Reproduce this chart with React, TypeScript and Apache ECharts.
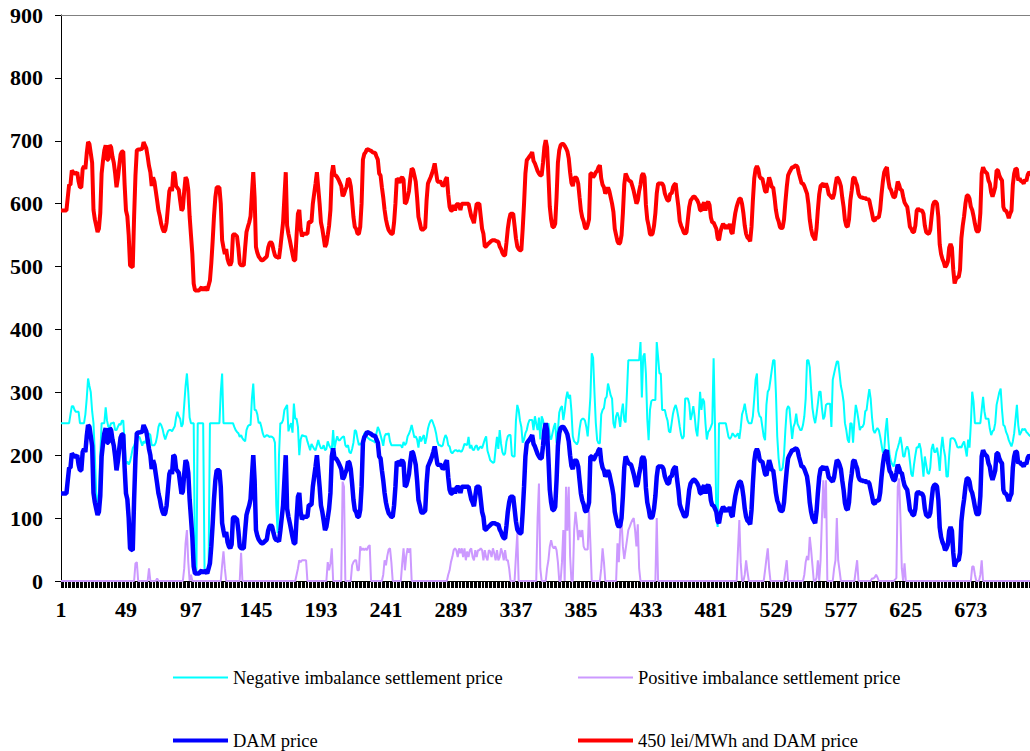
import React, { useEffect, useRef } from 'react';
import * as echarts from 'echarts';

// hourly intervals 1..720 (category axis)
const hours: string[] = Array.from({ length: 720 }, (_, i) => String(i + 1));

const NAME_NEG = 'Negative imbalance settlement price';
const NAME_POS = 'Positive imbalance settlement price';
const NAME_DAM = 'DAM price';
const NAME_RED = '450 lei/MWh and DAM price';

// one line = one day (24 hourly values)
const negativeImbalancePrice: number[] = [
  251,251,251,251,251,251,251,265,278,278,272,269,269,269,251,251,251,251,265,290,322,310,300,270,
  251,200,140,120,140,200,251,251,251,276,255,245,245,251,251,252,240,240,245,250,248,255,255,219,
  187,190,185,190,200,211,215,222,229,229,229,222,215,222,219,226,230,235,232,216,216,216,220,230,
  245,251,248,242,232,225,232,238,240,240,238,242,246,260,269,262,258,245,250,280,310,330,300,260,
  251,251,251,15,15,251,251,251,251,251,20,15,15,20,251,251,251,251,251,251,251,251,300,330,
  251,251,251,251,251,251,251,251,245,240,237,235,229,232,227,224,222,240,246,248,248,290,314,272,
  272,265,251,253,245,235,229,230,232,231,229,230,229,227,220,120,76,200,251,251,256,272,276,280,
  238,246,251,236,282,258,258,245,200,225,232,231,230,230,222,215,208,218,214,210,208,216,224,216,
  211,211,216,208,210,222,216,212,209,240,210,222,230,224,224,227,229,230,216,213,216,205,203,210,
  220,240,238,226,216,219,216,222,235,235,229,227,225,224,223,222,220,235,245,240,232,224,215,230,
  234,233,235,222,216,216,216,216,216,216,216,216,212,221,216,219,230,234,240,248,238,228,230,225,
  212,230,222,228,232,218,228,242,250,255,256,250,244,235,222,216,216,214,216,226,232,228,216,214,
  205,203,206,208,208,206,208,206,206,211,218,217,216,229,211,216,209,208,214,216,208,212,214,211,
  218,225,230,207,200,192,190,188,189,210,229,210,240,218,205,200,203,222,230,232,232,200,198,198,
  255,280,272,255,245,220,225,235,240,250,256,256,256,240,262,250,240,260,225,262,256,240,215,240,
  251,230,225,235,245,251,219,240,268,275,278,256,270,290,301,290,296,270,230,222,220,217,222,242,
  255,258,258,255,245,230,260,293,362,355,300,251,224,219,219,265,272,275,290,293,314,305,295,290,
  251,243,262,268,260,245,268,282,256,252,300,351,351,351,351,351,351,351,351,351,380,292,357,362,
  330,258,224,272,286,288,288,288,380,356,330,330,272,272,272,262,255,238,236,251,266,275,280,272,
  260,245,232,226,230,290,290,290,282,256,265,278,262,240,230,260,301,272,290,285,250,225,237,240,
  245,251,354,251,100,86,251,251,251,251,251,251,240,229,226,229,235,232,229,232,235,226,243,265,
  272,282,268,256,251,251,251,262,290,320,330,270,262,260,245,230,224,280,301,305,320,336,351,351,
  300,230,195,176,176,180,200,240,272,278,275,250,226,245,251,266,250,245,240,240,248,262,290,351,
  351,340,305,275,260,251,265,282,301,301,275,257,262,280,282,282,282,245,320,330,340,349,349,330,
  310,300,285,251,240,225,220,251,250,220,255,280,270,256,240,245,245,250,270,272,290,305,290,260,
  240,235,240,243,240,230,217,204,207,240,259,225,200,190,185,182,192,205,212,220,229,216,198,198,
  210,214,208,190,170,166,185,200,213,212,219,210,190,166,198,185,172,170,180,210,218,205,205,212,
  198,175,210,229,210,198,166,166,200,226,227,227,225,220,213,212,214,212,218,222,210,198,225,212,
  250,301,285,251,251,251,251,251,272,293,270,258,258,258,242,232,238,240,251,280,290,300,306,272,
  248,246,237,232,224,219,214,222,235,258,280,248,232,236,242,240,242,237,235,232,230,232,235,233,
];

const positiveImbalancePrice: number[] = [
  0,0,0,0,0,0,0,0,0,0,0,0,0,0,0,0,0,0,0,0,0,0,0,0,
  0,0,0,0,0,0,0,0,0,0,0,0,0,0,0,0,0,0,0,0,0,0,0,0,
  0,0,0,0,0,0,0,28,30,0,0,0,0,0,0,0,0,20,0,0,0,0,0,4,
  0,0,0,0,0,0,0,0,0,0,0,0,0,0,0,0,0,0,0,20,60,81,30,0,
  10,0,0,0,0,0,0,0,0,0,0,0,0,0,0,0,0,0,0,0,0,0,0,25,
  47,20,0,0,0,0,0,0,0,0,0,0,0,45,0,0,0,0,0,0,0,0,0,0,
  0,0,0,0,0,0,0,0,0,0,0,0,0,0,0,0,0,0,0,0,0,0,0,0,
  0,0,0,0,0,0,10,20,33,30,33,33,33,33,0,0,0,0,0,0,0,0,0,0,
  0,0,0,0,0,30,17,28,52,0,0,0,0,0,0,0,158,150,0,0,0,0,0,25,
  30,33,33,17,17,55,49,52,49,52,49,55,57,0,0,0,0,0,0,0,0,0,10,33,
  25,40,50,52,30,0,0,0,0,0,0,0,28,52,17,40,52,45,52,0,0,0,0,0,
  0,0,0,0,0,0,0,0,0,0,0,0,0,0,0,0,0,0,0,0,0,0,10,17,
  30,38,49,52,49,38,52,44,52,38,52,33,47,38,49,52,38,33,49,38,49,49,52,49,
  33,49,38,33,49,47,38,52,44,33,49,33,38,52,45,33,49,33,33,20,0,0,0,0,
  40,76,0,0,0,0,0,0,0,0,0,0,0,0,0,0,100,155,20,0,0,0,0,20,
  33,55,65,55,52,55,49,30,0,0,30,81,0,150,80,150,40,0,0,81,110,90,65,81,
  70,81,55,50,50,50,113,60,0,0,0,0,0,0,0,20,52,30,0,0,0,0,0,0,
  0,0,0,60,30,80,97,55,35,50,65,81,86,92,97,100,81,55,90,20,0,0,0,0,
  0,0,0,0,0,0,0,0,100,0,0,0,0,0,0,0,0,0,0,0,0,0,0,0,
  0,0,0,0,0,0,0,0,0,0,0,0,0,0,0,0,0,0,0,0,0,0,0,0,
  0,0,0,0,0,0,0,0,0,0,0,0,0,0,0,0,0,0,0,0,50,97,30,0,
  0,10,33,15,0,0,0,0,0,0,0,0,0,0,0,0,17,35,52,20,0,0,0,0,
  0,0,0,0,0,0,0,17,33,0,0,0,0,0,0,0,0,0,0,0,0,10,30,40,
  33,70,50,25,0,0,5,33,0,33,100,160,100,160,0,0,0,0,0,20,33,100,33,17,
  0,0,0,0,0,0,0,0,0,0,0,17,33,0,0,0,0,0,0,0,0,0,0,4,
  4,6,10,6,0,0,0,0,0,0,0,0,0,0,0,0,2,5,150,163,100,20,0,28,
  0,0,0,0,0,0,0,0,0,0,0,0,0,0,0,0,0,0,0,0,0,0,0,0,
  0,0,0,0,0,0,0,0,0,0,0,0,0,0,0,0,0,0,0,0,0,0,0,0,
  0,23,23,10,0,0,0,10,33,0,0,0,0,0,0,0,0,0,0,0,0,0,0,0,
  0,0,0,0,0,0,0,0,0,0,0,0,0,0,0,0,0,0,0,0,0,0,0,0,
];

const damPrice: number[] = [
  139,139,139,139,139,160,180,180,203,200,198,198,200,185,176,176,205,210,205,230,248,245,230,215,
  140,125,115,105,110,135,198,218,235,243,220,220,243,240,225,215,198,176,190,210,228,233,233,180,
  139,130,100,52,50,49,130,195,235,236,236,237,237,248,243,238,225,210,200,178,192,185,170,155,
  139,130,118,110,105,108,120,145,170,176,170,200,198,178,175,172,155,139,142,170,192,188,172,130,
  100,70,23,12,12,12,12,15,17,12,17,15,12,20,28,55,90,130,160,176,176,176,150,92,
  80,70,78,62,55,52,58,100,102,100,98,80,55,52,52,52,80,105,113,120,130,166,200,160,
  81,72,66,63,60,60,62,64,66,80,87,89,86,76,68,65,65,63,80,100,120,160,200,115,
  102,92,81,70,60,60,100,134,140,110,98,102,102,102,102,121,121,121,150,166,182,200,175,150,
  120,110,96,81,86,100,115,140,198,211,195,195,192,188,183,178,162,165,172,177,190,188,178,155,
  129,113,110,102,102,113,150,220,229,232,237,236,235,234,232,231,231,225,220,198,195,176,160,140,
  125,115,108,105,102,102,120,150,190,188,183,190,192,188,150,152,160,170,190,206,204,195,185,160,
  129,120,110,108,110,112,155,182,187,192,198,205,214,200,186,184,186,182,178,180,188,192,165,145,
  139,139,148,139,148,150,148,140,150,150,150,150,150,150,140,130,125,119,135,150,150,150,130,110,
  102,82,82,85,87,89,91,92,92,91,90,90,82,78,72,68,68,88,110,125,134,134,134,115,
  95,82,78,76,76,110,150,198,219,222,225,228,232,218,214,208,202,198,195,195,215,240,251,240,
  195,145,125,113,113,118,160,215,235,243,245,245,242,238,233,222,200,183,178,190,192,190,182,160,
  139,128,122,112,110,116,125,198,198,192,195,200,202,208,211,190,180,176,166,170,176,170,160,150,
  137,110,100,90,86,88,100,135,180,198,193,188,186,185,178,170,160,150,155,170,180,195,198,192,
  148,125,115,102,100,103,115,135,166,182,182,182,182,178,166,160,155,155,166,166,176,180,182,162,
  145,122,115,110,104,102,105,125,145,155,158,161,161,158,155,150,140,139,148,152,139,150,153,148,
  128,120,120,115,110,95,92,105,113,118,115,110,116,110,118,105,102,120,135,145,152,158,158,150,
  135,115,102,96,94,90,113,155,190,205,210,205,193,190,190,180,170,168,180,192,185,176,176,160,
  140,128,122,113,111,112,125,152,176,195,200,204,208,208,210,211,208,198,190,182,182,178,172,166,
  150,125,110,100,96,92,110,140,165,178,180,182,176,182,176,165,163,160,158,165,180,192,190,185,
  178,160,145,124,115,113,125,155,171,190,192,185,179,166,161,160,160,158,160,156,158,155,145,135,
  124,123,127,128,128,140,165,185,200,205,208,187,175,172,165,160,161,172,185,180,172,172,161,152,
  148,145,130,113,110,105,105,115,139,142,140,139,139,134,115,105,103,102,108,129,148,153,153,150,
  129,85,70,62,57,49,52,58,80,86,80,45,23,30,33,33,45,95,115,130,150,163,163,158,
  145,140,130,118,108,105,108,135,198,208,203,200,198,187,182,168,161,168,176,203,203,195,190,187,
  145,139,139,134,127,134,139,180,198,206,205,187,190,186,185,182,188,186,196,200,198,195,190,185,
];

// the red series is, by its own definition, 450 lei/MWh added to the DAM price
const PRICE_OFFSET = 450;
const damPlusOffset: number[] = damPrice.map((v) => v + PRICE_OFFSET);

const Y_MIN = 0;
const Y_MAX = 900;
const Y_STEP = 100;

const FONT = "'Liberation Serif', 'Times New Roman', serif";

const legendText = { fontSize: 18.5, color: '#000', fontFamily: FONT };

const makeLegend = (name: string, left: number, top: number, h: number) => ({
  data: [name],
  left,
  top,
  orient: 'horizontal',
  icon: 'rect',
  itemWidth: 55,
  itemHeight: h,
  itemGap: 0,
  padding: 0,
  selectedMode: false,
  textStyle: legendText,
});

const option = {
  animation: false,
  backgroundColor: '#ffffff',
  textStyle: { fontFamily: FONT },
  grid: { left: 61, top: 15, width: 973.5, height: 566, containLabel: false },
  xAxis: [
    {
      type: 'category',
      data: hours,
      boundaryGap: false,
      axisLine: { show: true, lineStyle: { color: '#000', width: 1 } },
      axisTick: { show: true, interval: 0, length: 7, lineStyle: { color: '#000', width: 1 } },
      axisLabel: {
        interval: 47,
        margin: 17,
        fontSize: 22,
        fontWeight: 'bold',
        color: '#000',
        fontFamily: FONT,
      },
      splitLine: { show: false },
    },
    {
      type: 'category',
      data: hours,
      position: 'top',
      boundaryGap: false,
      axisLine: { show: true, lineStyle: { color: '#808080', width: 1 } },
      axisTick: { show: false },
      axisLabel: { show: false },
      splitLine: { show: false },
    },
  ],
  yAxis: {
    type: 'value',
    min: Y_MIN,
    max: Y_MAX,
    interval: Y_STEP,
    axisLine: { show: true, lineStyle: { color: '#000', width: 1 } },
    axisTick: { show: true, length: 6, lineStyle: { color: '#000', width: 1 } },
    axisLabel: { margin: 18, fontSize: 22, fontWeight: 'bold', color: '#000', fontFamily: FONT },
    splitLine: { show: false },
  },
  legend: [
    makeLegend(NAME_NEG, 173, 668, 2),
    makeLegend(NAME_POS, 578, 668, 2),
    makeLegend(NAME_DAM, 173, 731, 4),
    makeLegend(NAME_RED, 578, 731, 4),
  ],
  series: [
    {
      name: NAME_NEG,
      type: 'line',
      data: negativeImbalancePrice,
      showSymbol: false,
      symbol: 'none',
      color: '#00FFFF',
      lineStyle: { color: '#00FFFF', width: 2 },
      itemStyle: { color: '#00FFFF' },
    },
    {
      name: NAME_POS,
      type: 'line',
      data: positiveImbalancePrice,
      showSymbol: false,
      symbol: 'none',
      color: '#CC99FF',
      lineStyle: { color: '#CC99FF', width: 2 },
      itemStyle: { color: '#CC99FF' },
    },
    {
      name: NAME_DAM,
      type: 'line',
      data: damPrice,
      showSymbol: false,
      symbol: 'none',
      color: '#0000FF',
      lineStyle: { color: '#0000FF', width: 4.5 },
      itemStyle: { color: '#0000FF' },
    },
    {
      name: NAME_RED,
      type: 'line',
      data: damPlusOffset,
      showSymbol: false,
      symbol: 'none',
      color: '#FF0000',
      lineStyle: { color: '#FF0000', width: 4 },
      itemStyle: { color: '#FF0000' },
    },
  ],
};

export default function App() {
  const ref = useRef<HTMLDivElement>(null);
  useEffect(() => {
    if (!ref.current) return;
    const chart = echarts.init(ref.current, null, { renderer: 'svg' });
    chart.setOption(option as any);
    return () => {
      chart.dispose();
    };
  }, []);
  return (
    <div
      style={{
        position: 'absolute',
        left: 0,
        top: 0,
        width: 1030,
        height: 751,
        overflow: 'hidden',
        background: '#ffffff',
      }}
    >
      <div ref={ref} style={{ width: 1060, height: 751 }} />
    </div>
  );
}
